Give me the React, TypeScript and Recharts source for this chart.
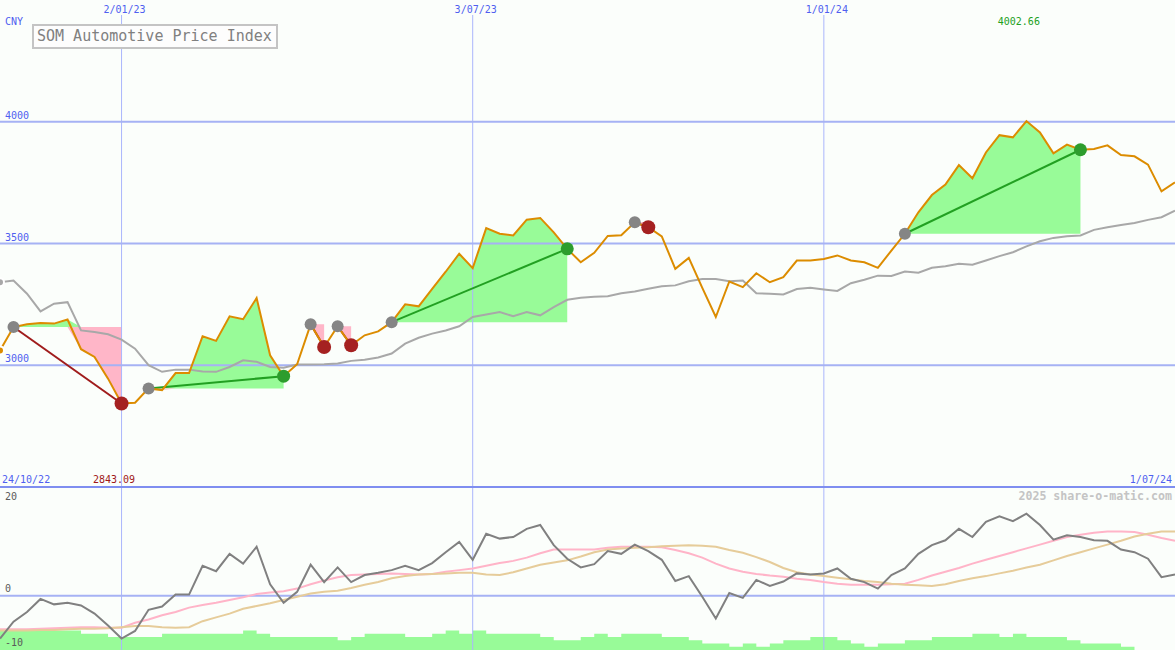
import React from 'react';
import { ComposedChart, Line, Area, XAxis, YAxis, ReferenceLine } from 'recharts';

const MONO = '"DejaVu Sans Mono", monospace';
const BG = '#fbfefb';
const TICK_BLUE = '#4f5ff0';
const GRID = '#a6b2f4';
const VGRID = '#aab6fc';
const BORDER = '#7f8ef0';

// axis labels
const dateTickIndex = [9, 35, 61];
const dateTickLabels = ['2/01/23', '3/07/23', '1/01/24'];
const rangeLabels = ['24/10/22', '1/07/24'];
const priceTicks = [3000, 3500, 4000];
const oscTicks = [20, 0, -10];

// weekly closes (CNY)
const price = [
  3061, 3157, 3168, 3173, 3171, 3188, 3066, 3034, 2945, 2843.09,
  2846, 2905, 2898, 2968, 2968, 3119, 3100, 3201, 3189, 3276,
  3041, 2955, 3004, 3168, 3075, 3160, 3082, 3123, 3139, 3177,
  3250, 3242, 3314, 3384, 3458, 3399, 3563, 3540, 3533, 3598,
  3605, 3546, 3478, 3423, 3462, 3531, 3534, 3587, 3567, 3529,
  3396, 3441, 3318, 3198, 3344, 3321, 3378, 3341, 3362, 3430,
  3430, 3436, 3451, 3430, 3423, 3400, 3471, 3540, 3628, 3699,
  3742, 3822, 3768, 3874, 3945, 3936, 4002.66, 3956, 3870, 3906,
  3885, 3888, 3903, 3863, 3858, 3824, 3714, 3751,
];

// moving average
const avg = [
  3341, 3348, 3294, 3221, 3253, 3259, 3143, 3137, 3127, 3105,
  3068, 3000, 2973, 2982, 2982, 2974, 2973, 2993, 3020, 3014,
  2993, 2990, 3003, 3003, 3004, 3007, 3018, 3023, 3032, 3048,
  3089, 3113, 3130, 3143, 3160, 3198, 3208, 3219, 3201, 3219,
  3205, 3239, 3269, 3277, 3281, 3283, 3296, 3303, 3314, 3324,
  3328, 3345, 3354, 3354, 3345, 3348, 3296, 3294, 3291, 3313,
  3318, 3311, 3305, 3337, 3351, 3368, 3367, 3385, 3380, 3400,
  3407, 3417, 3413, 3430, 3448, 3464, 3488, 3509, 3523, 3530,
  3533, 3556, 3567, 3576, 3584, 3597, 3608, 3635,
];

// lower panel
const osc = [
  -7.9, -4.8, -3.0, -0.6, -1.6, -1.3, -1.8, -3.3, -5.5, -7.9,
  -6.5, -2.6, -2.0, 0.2, 0.2, 5.5, 4.5, 7.7, 5.9, 9.0,
  2.1, -1.3, 0.7, 5.7, 2.5, 5.2, 2.5, 3.8, 4.2, 4.7,
  5.5, 4.7, 6.0, 8.0, 9.9, 6.6, 11.4, 10.5, 10.8, 12.3,
  13.0, 9.3, 6.8, 5.2, 5.8, 8.2, 7.7, 9.4, 8.2, 6.6,
  2.7, 3.6, -0.2, -4.2, 0.5, -0.4, 2.9, 1.8, 2.6, 4.1,
  3.9, 4.1, 5.0, 3.1, 2.5, 1.3, 3.8, 5.0, 7.7, 9.3,
  10.2, 12.3, 10.8, 13.6, 14.6, 13.7, 15.1, 13.0, 10.3, 11.1,
  10.8, 10.2, 10.1, 8.5, 8.0, 6.8, 3.4, 3.9,
];

const oscFast = [
  -6.2, -6.2, -6.2, -6.1, -6.0, -5.9, -5.8, -5.8, -5.9, -5.9,
  -5.0, -4.4, -3.6, -3.0, -2.2, -1.7, -1.3, -0.8, -0.3, 0.3,
  0.6, 0.8, 1.3, 2.1, 2.8, 3.4, 3.8, 3.9, 4.0, 4.1,
  4.0, 3.9, 4.0, 4.4, 4.7, 5.0, 5.5, 6.0, 6.4, 7.0,
  7.8, 8.5, 8.5, 8.5, 8.5, 8.8, 9.0, 9.0, 9.0, 8.9,
  8.4, 7.8, 7.0, 5.9, 5.0, 4.4, 4.0, 3.7, 3.5, 3.1,
  2.9, 2.5, 2.2, 2.0, 2.0, 2.0, 2.1, 2.2, 2.9, 3.7,
  4.4, 5.1, 5.9, 6.6, 7.3, 8.0, 8.7, 9.4, 10.1, 10.8,
  11.2, 11.6, 11.8, 11.8, 11.7, 11.2, 10.6, 10.1,
];

const oscSlow = [
  -6.4, -6.4, -6.4, -6.3, -6.3, -6.2, -6.1, -6.1, -6.0, -5.8,
  -5.6, -5.6, -5.8, -5.9, -5.8, -4.7, -4.0, -3.3, -2.4, -1.9,
  -1.4, -0.8, -0.2, 0.4, 0.7, 0.9, 1.4, 2.0, 2.5, 3.2,
  3.6, 3.9, 4.0, 4.1, 4.2, 4.2, 3.9, 3.8, 4.3, 5.0,
  5.7, 6.1, 6.5, 7.2, 8.0, 8.5, 8.7, 8.8, 8.9, 9.1,
  9.2, 9.3, 9.2, 9.0, 8.4, 7.9, 7.1, 6.2, 5.1, 4.3,
  3.9, 3.6, 3.3, 3.0, 2.7, 2.5, 2.2, 2.0, 1.9, 1.8,
  2.1, 2.7, 3.2, 3.6, 4.1, 4.6, 5.2, 5.7, 6.5, 7.3,
  8.0, 8.7, 9.4, 10.1, 10.9, 11.4, 11.8, 11.8,
];

const volume = [
  6, 6, 6, 6, 6, 6, 5, 5, 4, 4,
  4, 4, 5, 5, 5, 5, 5, 5, 6, 5,
  4, 4, 4, 4, 4, 3, 4, 5, 5, 5,
  4, 4, 5, 6, 5, 6, 5, 5, 5, 5,
  4, 3, 3, 4, 5, 4, 5, 5, 5, 4,
  4, 3, 2, 2, 1, 2, 1, 2, 3, 3,
  4, 4, 3, 2, 1, 2, 2, 3, 3, 4,
  4, 4, 5, 5, 4, 5, 4, 4, 4, 3,
  2, 2, 2, 1, 0, 0, 0, 0,
];

// trades (entry / exit week index)
const tradeStart = [1, 11, 23, 25, 29, 47, 67];
const tradeEnd = [9, 21, 24, 26, 42, 48, 80];

const LAST = price.length - 1;
const minIdx = price.indexOf(Math.min(...price));
const maxIdx = price.indexOf(Math.max(...price));

const rows = price.map((p, i) => {
  const row: any = {
    i,
    price: p,
    avg: avg[i],
    osc: osc[i],
    fast: oscFast[i],
    slow: oscSlow[i],
    vol: volume[i],
  };
  tradeStart.forEach((s, k) => {
    const e = tradeEnd[k];
    const base = price[s];
    const inside = i >= s && i <= e;
    row['up' + k] = inside ? [base, Math.max(p, base)] : null;
    row['dn' + k] = inside ? [Math.min(p, base), base] : null;
    row['tl' + k] = i === s || i === e ? p : null;
  });
  row.entry = tradeStart.includes(i) ? p : null;
  const k = tradeEnd.indexOf(i);
  row.win = k >= 0 && p > price[tradeStart[k]] ? p : null;
  row.loss = k >= 0 && p <= price[tradeStart[k]] ? p : null;
  return row;
});

const priceTickLabel = (text: string) => ({ viewBox }: any) => (
  <text x={viewBox.x + 5} y={viewBox.y - 3} fill={TICK_BLUE} fontSize={10} fontFamily={MONO}>
    {text}
  </text>
);

const dateTickLabel = (text: string) => ({ viewBox }: any) => (
  <g>
    <rect x={viewBox.x - 20} y={viewBox.y} width={46} height={15} fill={BG} />
    <text x={viewBox.x + 3} y={viewBox.y + 13} textAnchor="middle" fill={TICK_BLUE} fontSize={10} fontFamily={MONO}>
      {text}
    </text>
  </g>
);

const rangeLabel = ({ viewBox }: any) => (
  <g>
    <text x={viewBox.x + 2} y={viewBox.y - 4} fill={TICK_BLUE} fontSize={10} fontFamily={MONO}>
      {rangeLabels[0]}
    </text>
    <text x={viewBox.x + viewBox.width - 3} y={viewBox.y - 4} textAnchor="end" fill={TICK_BLUE} fontSize={10} fontFamily={MONO}>
      {rangeLabels[1]}
    </text>
  </g>
);

const extremeLabel = (text: string, color: string, atTop: boolean) => ({ viewBox }: any) => (
  <text
    x={viewBox.x + 13.5}
    y={atTop ? viewBox.y + 25 : viewBox.y + viewBox.height - 4}
    textAnchor="end"
    fill={color}
    fontSize={10}
    fontFamily={MONO}
  >
    {text}
  </text>
);

const oscTickLabel = (v: number) => ({ viewBox }: any) => (
  <text
    x={viewBox.x + 5}
    y={v === oscTicks[0] ? viewBox.y + 13 : viewBox.y - 4}
    fill="#5a5a5a"
    fontSize={10}
    fontFamily={MONO}
  >
    {String(v)}
  </text>
);

const App: React.FC = () => {
  return (
    <div
      style={{
        position: 'absolute',
        left: 0,
        top: 0,
        width: 1175,
        height: 650,
        background: BG,
        overflow: 'hidden',
        fontFamily: MONO,
      }}
    >
      <div style={{ position: 'absolute', left: 0, top: 0 }}>
        <ComposedChart width={1175} height={487} data={rows} margin={{ top: 0, right: 0, bottom: 0, left: 0 }}>
          <XAxis type="number" dataKey="i" domain={[0, LAST]} hide allowDataOverflow />
          <YAxis type="number" domain={[2500, 4500]} hide allowDataOverflow />
          {dateTickIndex.map((x, k) => (
            <ReferenceLine key={'d' + k} x={x} stroke={VGRID} strokeWidth={1} label={dateTickLabel(dateTickLabels[k])} />
          ))}
          {priceTicks.map((t) => (
            <ReferenceLine key={'p' + t} y={t} stroke={GRID} strokeWidth={2} label={priceTickLabel(String(t))} />
          ))}
          <ReferenceLine y={2500} stroke="none" label={rangeLabel} />
          <ReferenceLine x={minIdx} stroke="none" label={extremeLabel(price[minIdx].toFixed(2), '#a01818', false)} />
          <ReferenceLine x={maxIdx} stroke="none" label={extremeLabel(price[maxIdx].toFixed(2), '#22a022', true)} />

          {tradeStart.map((s, k) => (
            <Area
              key={'up' + k}
              dataKey={'up' + k}
              fill="#98fb98"
              fillOpacity={1}
              stroke="none"
              isAnimationActive={false}
            />
          ))}
          {tradeStart.map((s, k) => (
            <Area
              key={'dn' + k}
              dataKey={'dn' + k}
              fill="#ffb6c8"
              fillOpacity={1}
              stroke="none"
              isAnimationActive={false}
            />
          ))}

          <Line dataKey="avg" stroke="#a8a8a8" strokeWidth={2} dot={false} isAnimationActive={false} />

          {tradeStart.map((s, k) => (
            <Line
              key={'tl' + k}
              dataKey={'tl' + k}
              stroke={price[tradeEnd[k]] > price[s] ? '#22a022' : '#a01c1c'}
              strokeWidth={2}
              dot={false}
              connectNulls
              isAnimationActive={false}
            />
          ))}

          <Line dataKey="entry" stroke="none" dot={{ r: 6, fill: '#858585', stroke: 'none' }} isAnimationActive={false} />
          <Line dataKey="win" stroke="none" dot={{ r: 6.5, fill: '#2d9d2d', stroke: 'none' }} isAnimationActive={false} />
          <Line dataKey="loss" stroke="none" dot={{ r: 7, fill: '#a52121', stroke: 'none' }} isAnimationActive={false} />

          <Line dataKey="price" stroke="#dc8c00" strokeWidth={2} dot={false} isAnimationActive={false} />
        </ComposedChart>
      </div>

      <div style={{ position: 'absolute', left: 0, top: 486 }}>
        <ComposedChart width={1175} height={164} data={rows} margin={{ top: 1, right: 0, bottom: 0, left: 0 }}>
          <XAxis type="number" dataKey="i" domain={[0, LAST]} hide allowDataOverflow />
          <YAxis type="number" domain={[-10, 20]} hide allowDataOverflow />
          <YAxis yAxisId="vol" type="number" domain={[0, 50]} hide allowDataOverflow />
          {dateTickIndex.map((x, k) => (
            <ReferenceLine key={'bd' + k} x={x} stroke={VGRID} strokeWidth={1} />
          ))}
          {oscTicks.map((t) => (
            <ReferenceLine
              key={'o' + t}
              y={t}
              stroke={t === oscTicks[0] ? BORDER : t === 0 ? GRID : 'none'}
              strokeWidth={2}
              label={oscTickLabel(t)}
            />
          ))}
          <Area
            yAxisId="vol"
            type="stepAfter"
            dataKey="vol"
            fill="#98fb98"
            fillOpacity={1}
            stroke="none"
            isAnimationActive={false}
          />
          <Line dataKey="fast" stroke="#ffb4c8" strokeWidth={2} dot={false} isAnimationActive={false} />
          <Line dataKey="slow" stroke="#e6cc9a" strokeWidth={2} dot={false} isAnimationActive={false} />
          <Line dataKey="osc" stroke="#808080" strokeWidth={2} dot={false} isAnimationActive={false} />
        </ComposedChart>
      </div>

      <div
        style={{
          position: 'absolute',
          left: 5,
          top: 17,
          fontSize: 10,
          lineHeight: '10px',
          color: TICK_BLUE,
        }}
      >
        CNY
      </div>
      <div
        style={{
          position: 'absolute',
          left: 32,
          top: 24,
          width: 246,
          height: 25,
          boxSizing: 'border-box',
          border: '2px solid #c4c4c4',
          background: '#fdfdfd',
          color: '#808080',
          fontSize: 15,
          lineHeight: '21px',
          paddingLeft: 3,
          whiteSpace: 'nowrap',
        }}
      >
        SOM Automotive Price Index
      </div>
      <div
        style={{
          position: 'absolute',
          right: 3,
          top: 491,
          fontSize: 11.6,
          lineHeight: '11.6px',
          fontWeight: 'bold',
          color: '#c4c4c4',
          whiteSpace: 'nowrap',
        }}
      >
        2025 share-o-matic.com
      </div>
    </div>
  );
};

export default App;
